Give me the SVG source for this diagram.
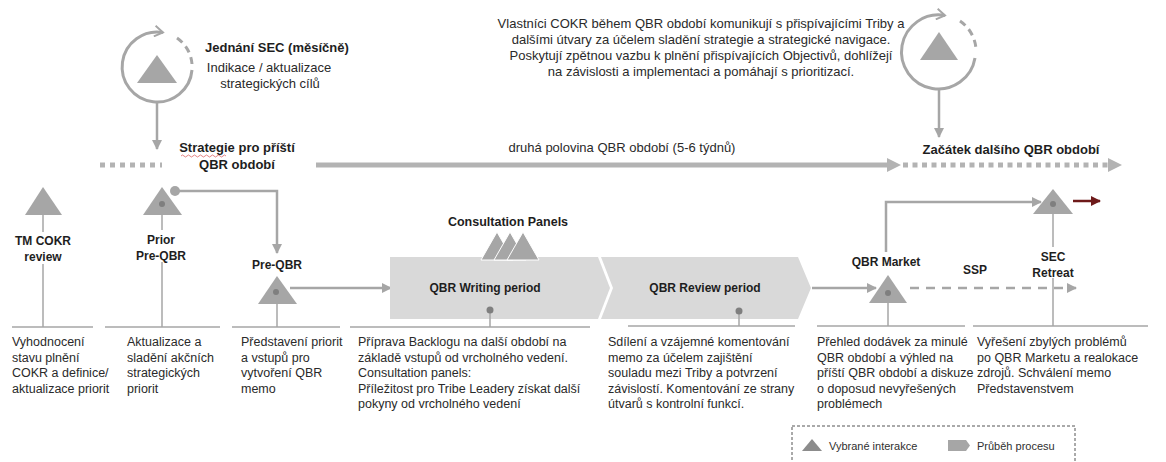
<svg xmlns="http://www.w3.org/2000/svg" width="1166" height="462" viewBox="0 0 1166 462">
  <style>
    text { font-family: "Liberation Sans", Arial, sans-serif; fill: #1e1e1e; }
    .lbl { font-size: 12px; font-weight: bold; text-anchor: middle; }
    .lbl13 { font-size: 13px; font-weight: bold; text-anchor: middle; }
    .desc { font-size: 12.5px; fill: #2a2a2a; }
    .note { font-size: 13px; fill: #2a2a2a; text-anchor: middle; }
    .leg { font-size: 11px; fill: #303030; }
    .tri { fill: #a6a6a6; }
    .dot { fill: #7f7f7f; }
    .stem { stroke: #a6a6a6; stroke-width: 1.5; fill: none; }
    .base { stroke: #a6a6a6; stroke-width: 1.5; fill: none; }
    .conn { stroke: #a6a6a6; stroke-width: 2.5; fill: none; }
    .ring { stroke: #a6a6a6; stroke-width: 3; fill: none; }
    .timeline { stroke: #b3b3b3; stroke-width: 5; fill: none; }
    .proc { fill: #d9d9d9; }
    .mask { fill: #ffffff; }
  </style>
  <defs>
    <marker id="head" viewBox="0 0 10 10" refX="9" refY="5" markerWidth="4" markerHeight="4" orient="auto" markerUnits="strokeWidth">
      <path d="M0,0 L10,5 L0,10 Z" fill="#a6a6a6"/>
    </marker>
    <marker id="headRed" viewBox="0 0 10 10" refX="9" refY="5" markerWidth="4" markerHeight="4" orient="auto" markerUnits="strokeWidth">
      <path d="M0,0 L10,5 L0,10 Z" fill="#6e1a1a"/>
    </marker>
    <marker id="openHead" viewBox="0 0 10 10" refX="8" refY="5" markerWidth="4" markerHeight="4" orient="auto" markerUnits="strokeWidth">
      <path d="M1,0.5 L8,5 L1,9.5" fill="none" stroke="#a6a6a6" stroke-width="1.6"/>
    </marker>
  </defs>

  <!-- timeline: strategy, second half of the QBR period, next period -->
  <g id="timeline">
    <line class="timeline" x1="100" y1="165" x2="162" y2="165" stroke-dasharray="5 5"/>
    <line class="timeline" x1="316" y1="165" x2="888" y2="165"/>
    <path d="M887,158 L901,165 L887,172 Z" fill="#b3b3b3"/>
    <line class="timeline" x1="903" y1="165" x2="1108" y2="165" stroke-dasharray="5 4.5"/>
    <path d="M1108,158 L1122,165 L1108,172 Z" fill="#b3b3b3"/>
    <text class="lbl13" x="237" y="152">Strategie pro příští</text>
    <path d="M181,156 q1.5,-2 3,0 t3,0 t3,0 t3,0 t3,0 t3,0 t3,0 t3,0 t3,0 t3,0 t3,0 t3,0 t3,0 t3,0 t3,0" fill="none" stroke="#d03030" stroke-width="0.6"/>
    <text class="lbl13" x="237" y="169">QBR období</text>
    <text class="note" x="622" y="152">druhá polovina QBR období (5-6 týdnů)</text>
    <text class="lbl13" x="1011" y="154">Začátek dalšího QBR období</text>
  </g>

  <!-- monthly SEC meeting -->
  <g id="sec-monthly">
    <path class="ring" d="M192,70 A35,35 0 1 1 163,32.5" marker-end="url(#openHead)"/>
    <path class="ring" d="M177,38 A35,35 0 0 1 192,64" stroke-dasharray="7 5"/>
    <path class="tri" d="M137,83 L157,55 L177,83 Z"/>
    <text class="lbl13" x="205" y="52" style="text-anchor:start">Jednání SEC (měsíčně)</text>
    <text class="note" x="269" y="72">Indikace / aktualizace</text>
    <text class="note" x="270" y="88">strategických cílů</text>
  </g>

  <!-- COKR owners during the QBR period -->
  <g id="cokr-owners">
    <path class="ring" d="M975,58 A37,37 0 1 1 945,15.5" marker-end="url(#openHead)"/>
    <path class="ring" d="M960,21 A37,37 0 0 1 976,49" stroke-dasharray="7 5"/>
    <path class="tri" d="M920,60 L939,32 L958,60 Z"/>
    <text class="note" x="701" y="28">Vlastníci COKR během QBR období komunikují s přispívajícími Triby a</text>
    <text class="note" x="701" y="44">dalšími útvary za účelem sladění strategie a strategické navigace.</text>
    <text class="note" x="701" y="60">Poskytují zpětnou vazbu k plnění přispívajících Objectivů, dohlížejí</text>
    <text class="note" x="701" y="76">na závislosti a implementaci a pomáhají s prioritizací.</text>
  </g>

  <!-- connectors -->
  <g id="connectors">
    <line class="conn" x1="157" y1="102" x2="157" y2="149" stroke-width="2" marker-end="url(#head)"/>
    <line class="conn" x1="939" y1="90" x2="939" y2="137" stroke-width="2" marker-end="url(#head)"/>
    <circle cx="175" cy="191" r="5" fill="#a6a6a6"/>
    <path class="conn" d="M175,191 H277 V253" stroke-width="2" marker-end="url(#head)"/>
    <line class="conn" x1="290" y1="288" x2="391" y2="288" stroke-width="2" marker-end="url(#head)"/>
    <line class="conn" x1="812" y1="288" x2="876" y2="288" stroke-width="2" marker-end="url(#head)"/>
    <path class="conn" d="M886,252 V202 H1041" stroke-width="2" marker-end="url(#head)"/>
    <line class="conn" x1="910" y1="288" x2="1076" y2="288" stroke-width="2.5" stroke-dasharray="9 7" marker-end="url(#head)"/>
    <line x1="1073" y1="201" x2="1100" y2="201" stroke="#6e1a1a" stroke-width="2.5" marker-end="url(#headRed)"/>
  </g>

  <!-- TM COKR review -->
  <g id="tm-cokr-review">
    <line class="stem" x1="43" y1="214" x2="43" y2="327"/>
    <line class="base" x1="12" y1="327" x2="93" y2="327"/>
    <path class="tri" d="M25,215 L43,187 L62,215 Z"/>
    <rect class="mask" x="14" y="232" width="58" height="32"/>
    <text class="lbl" x="43" y="245">TM COKR</text>
    <text class="lbl" x="43" y="261">review</text>
    <text class="desc" x="12" y="346">Vyhodnocení</text>
    <text class="desc" x="12" y="362">stavu plnění</text>
    <text class="desc" x="12" y="377">COKR a definice/</text>
    <text class="desc" x="12" y="393">aktualizace priorit</text>
  </g>

  <!-- Prior Pre-QBR -->
  <g id="prior-pre-qbr">
    <line class="stem" x1="162" y1="204" x2="162" y2="327"/>
    <line class="base" x1="105" y1="327" x2="220" y2="327"/>
    <path class="tri" d="M143,215 L162,187 L182,215 Z"/>
    <circle class="dot" cx="162" cy="204" r="3"/>
    <rect class="mask" x="130" y="230" width="62" height="32"/>
    <text class="lbl" x="161" y="244">Prior</text>
    <text class="lbl" x="161" y="260">Pre-QBR</text>
    <text class="desc" x="127" y="346">Aktualizace a</text>
    <text class="desc" x="127" y="362">sladění akčních</text>
    <text class="desc" x="127" y="377">strategických</text>
    <text class="desc" x="127" y="393">priorit</text>
  </g>

  <!-- Pre-QBR -->
  <g id="pre-qbr">
    <line class="stem" x1="277" y1="292" x2="277" y2="327"/>
    <line class="base" x1="232" y1="327" x2="340" y2="327"/>
    <path class="tri" d="M258,304 L277,276 L297,304 Z"/>
    <circle class="dot" cx="276" cy="292" r="3"/>
    <text class="lbl" x="277" y="269">Pre-QBR</text>
    <text class="desc" x="241" y="346">Představení priorit</text>
    <text class="desc" x="241" y="362">a vstupů pro</text>
    <text class="desc" x="241" y="377">vytvoření QBR</text>
    <text class="desc" x="241" y="393">memo</text>
  </g>

  <!-- QBR Writing period -->
  <g id="qbr-writing">
    <path class="proc" d="M390,257 L598,257 L610,288 L598,319 L390,319 Z"/>
    <path d="M481,260 L497,232 L513,260 Z" fill="#a6a6a6" stroke="#ffffff" stroke-width="1"/>
    <path d="M494,260 L510,232 L526,260 Z" fill="#a6a6a6" stroke="#ffffff" stroke-width="1"/>
    <path d="M507,260 L523,232 L539,260 Z" fill="#a6a6a6" stroke="#ffffff" stroke-width="1"/>
    <text class="lbl" x="508" y="226" style="font-size:12.5px">Consultation Panels</text>
    <text class="lbl" x="485" y="292">QBR Writing period</text>
    <line class="stem" x1="490" y1="310" x2="490" y2="327"/>
    <line class="base" x1="350" y1="327" x2="590" y2="327"/>
    <circle class="dot" cx="490" cy="310" r="3.5"/>
    <text class="desc" x="358" y="346">Příprava Backlogu na další období na</text>
    <text class="desc" x="358" y="362">základě vstupů od vrcholného vedení.</text>
    <text class="desc" x="358" y="377">Consultation panels:</text>
    <text class="desc" x="358" y="393">Příležitost pro Tribe Leadery získat další</text>
    <text class="desc" x="358" y="408">pokyny od vrcholného vedení</text>
  </g>

  <!-- QBR Review period -->
  <g id="qbr-review">
    <path class="proc" d="M601,257 L798,257 L811,288 L798,319 L601,319 L613,288 Z"/>
    <text class="lbl" x="705" y="292">QBR Review period</text>
    <line class="stem" x1="739" y1="311" x2="739" y2="326"/>
    <line class="base" x1="628" y1="326" x2="795" y2="326"/>
    <circle class="dot" cx="739" cy="311" r="3.5"/>
    <text class="desc" x="608" y="346">Sdílení a vzájemné komentování</text>
    <text class="desc" x="608" y="362">memo za účelem zajištění</text>
    <text class="desc" x="608" y="377">souladu mezi Triby a potvrzení</text>
    <text class="desc" x="608" y="393">závislostí. Komentování ze strany</text>
    <text class="desc" x="608" y="408">útvarů s kontrolní funkcí.</text>
  </g>

  <!-- QBR Market -->
  <g id="qbr-market">
    <line class="stem" x1="888" y1="293" x2="888" y2="326"/>
    <line class="base" x1="817" y1="326" x2="965" y2="326"/>
    <path class="tri" d="M869,303 L888,275 L907,303 Z"/>
    <circle class="dot" cx="888" cy="293" r="3"/>
    <text class="lbl" x="886" y="266">QBR Market</text>
    <text class="lbl" x="975" y="274">SSP</text>
    <text class="desc" x="817" y="346">Přehled dodávek za minulé</text>
    <text class="desc" x="817" y="362">QBR období a výhled na</text>
    <text class="desc" x="817" y="377">příští QBR období a diskuze</text>
    <text class="desc" x="817" y="393">o doposud nevyřešených</text>
    <text class="desc" x="817" y="408">problémech</text>
  </g>

  <!-- SEC Retreat -->
  <g id="sec-retreat">
    <line class="stem" x1="1053" y1="204" x2="1053" y2="326"/>
    <line class="base" x1="973" y1="326" x2="1148" y2="326"/>
    <path class="tri" d="M1033,214 L1053,189 L1073,214 Z"/>
    <circle class="dot" cx="1053" cy="204" r="3"/>
    <rect class="mask" x="1028" y="247" width="50" height="31"/>
    <text class="lbl" x="1053" y="261">SEC</text>
    <text class="lbl" x="1053" y="277">Retreat</text>
    <text class="desc" x="977" y="346">Vyřešení zbylých problémů</text>
    <text class="desc" x="977" y="362">po QBR Marketu a realokace</text>
    <text class="desc" x="977" y="377">zdrojů. Schválení memo</text>
    <text class="desc" x="977" y="393">Představenstvem</text>
  </g>

  <!-- legend -->
  <g id="legend">
    <rect x="792" y="426" width="283" height="44" fill="none" stroke="#555555" stroke-width="1" stroke-dasharray="3 2"/>
    <path d="M802,451 L812,439 L822,451 Z" fill="#8c8c8c"/>
    <text class="leg" x="829" y="450">Vybrané interakce</text>
    <path d="M948,440 L966,440 L970,445.5 L966,451 L948,451 Z" fill="#a6a6a6"/>
    <text class="leg" x="977" y="450">Průběh procesu</text>
  </g>
</svg>
